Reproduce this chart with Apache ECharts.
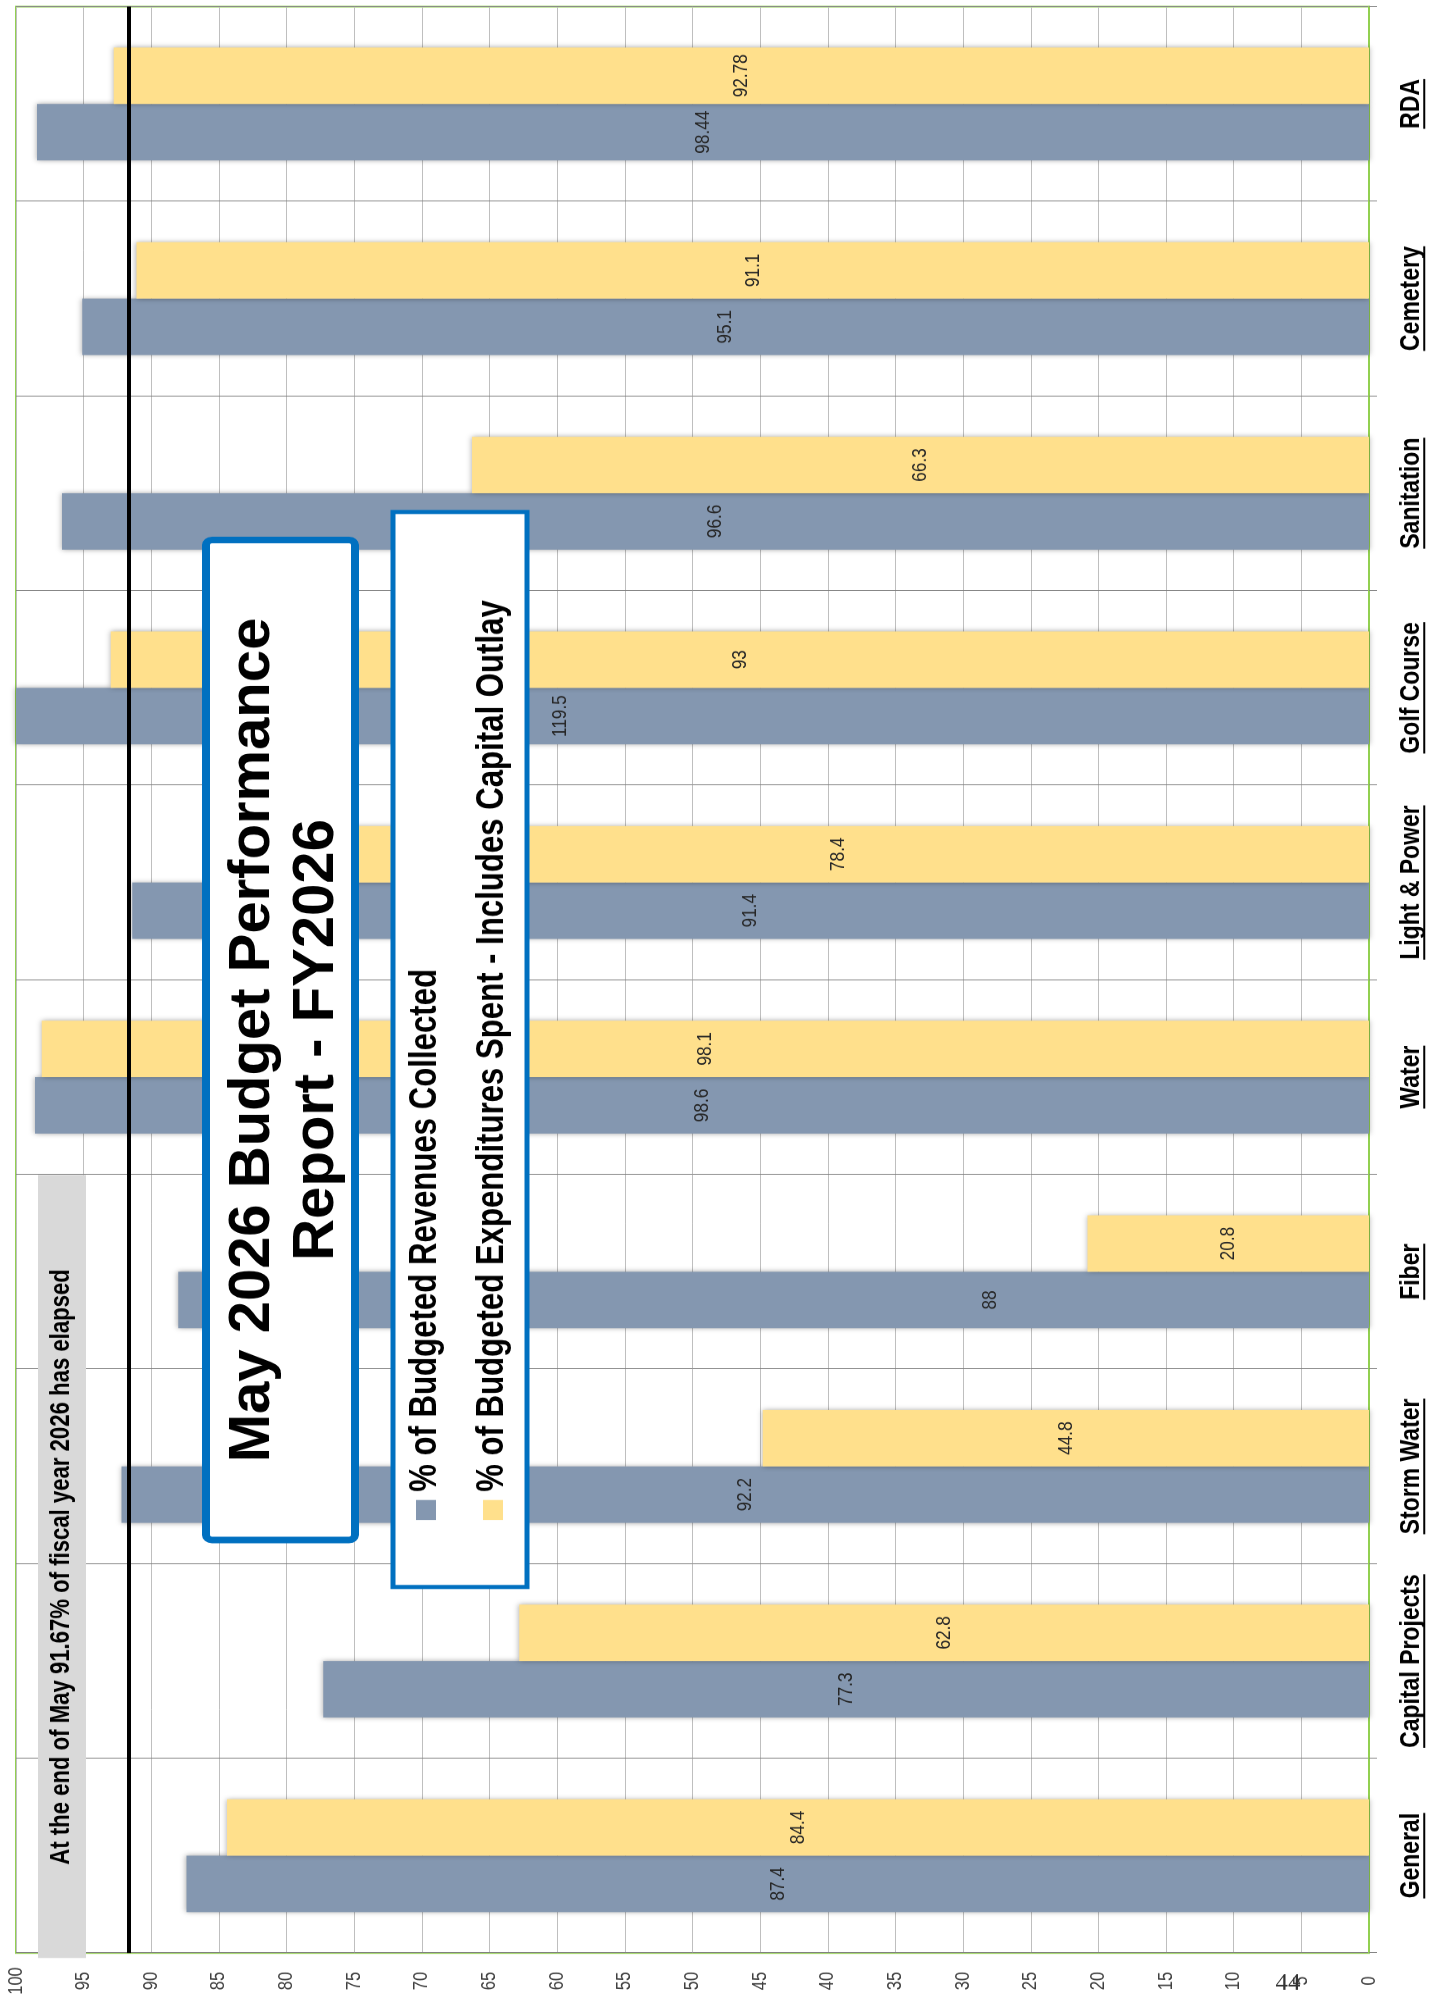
<!DOCTYPE html>
<html>
<head>
<meta charset="utf-8">
<script src="https://cdn.jsdelivr.net/npm/echarts@6/dist/echarts.min.js"></script>
<style>
  html, body { margin: 0; padding: 0; background: #fff; overflow: hidden; }
  #page { position: absolute; left: 0; top: 0; width: 1437px; height: 2007px; overflow: hidden; background: #fff; }
  #main { position: absolute; left: 0; top: 0; height: 1437px; transform-origin: 0 0; }
</style>
</head>
<body>
<div id="page"><div id="main"></div></div>
<script>
// ---------------- data ----------------
const categories = ['General', 'Capital Projects', 'Storm Water', 'Fiber', 'Water',
                    'Light & Power', 'Golf Course', 'Sanitation', 'Cemetery', 'RDA'];
const revenuesCollected = [87.4, 77.3, 92.2, 88, 98.6, 91.4, 119.5, 96.6, 95.1, 98.44];
const expendituresSpent = [84.4, 62.8, 44.8, 20.8, 98.1, 78.4, 93, 66.3, 91.1, 92.78];
const seriesNames = ['% of Budgeted Revenues Collected',
                     '% of Budgeted Expenditures Spent - Includes Capital Outlay'];
const valueAxisMin = 0, valueAxisMax = 100, valueAxisStep = 5;
const elapsedPct = 91.67;
const titleLines = ['May 2026 Budget Performance', 'Report - FY2026'];
const noteText = 'At the end of May 91.67% of fiscal year 2026 has elapsed';
const pageNumber = '44';

// ---------------- page geometry (chart is drawn sideways and narrowed) ----------------
const PAGE_W = 1437, PAGE_H = 2007;
const S = 0.82;                      // horizontal compression of the chart's own x direction
const U = px => px / S;              // page-pixels along the category direction -> chart px
const mainEl = document.getElementById('main');
mainEl.style.width = (PAGE_H / S) + 'px';
mainEl.style.transform = 'translate(0px,' + PAGE_H + 'px) rotate(-90deg) scaleX(' + S + ')';

const SANS = "'Liberation Sans', Arial, sans-serif";
const BLUE = '#8497B0', GOLD = '#FFE08C', FRAME = '#0070C0';
const catFont = 28, catMargin = 28;
// label placement override (value-axis position of the label centre)
const revLabelAt = { 3: 28 };

const chart = echarts.init(mainEl, null, { renderer: 'canvas' });

const barShadow = { shadowColor: 'rgba(0,0,0,0.35)', shadowBlur: 6, shadowOffsetX: 0, shadowOffsetY: 0 };
const barLabel = { show: true, position: 'inside', fontFamily: SANS, fontSize: 21, color: '#262626' };

const option = {
  animation: false,
  backgroundColor: '#ffffff',
  grid: { left: U(54), right: U(7), top: 16, bottom: 68, show: true, borderColor: '#92D050', borderWidth: 2, backgroundColor: 'transparent' },
  xAxis: {
    type: 'category', data: categories,
    axisLine: { show: true, lineStyle: { color: '#92D050', width: 2 } },
    axisTick: { show: true, length: 8, interval: 0, alignWithLabel: false, lineStyle: { color: '#808080' } },
    axisLabel: { interval: 0, margin: catMargin, fontFamily: SANS, fontWeight: 'bold', fontSize: catFont, color: '#000' },
    splitLine: { show: true, interval: 0, lineStyle: { color: '#7F7F7F', width: 1 } }
  },
  yAxis: {
    type: 'value', min: valueAxisMin, max: valueAxisMax, interval: valueAxisStep,
    axisLine: { show: false }, axisTick: { show: false },
    axisLabel: { margin: U(28), align: 'center', fontFamily: SANS, fontSize: 20, color: '#404040' },
    splitLine: { show: true, lineStyle: { color: '#BFBFBF', width: 1 } }
  },
  legend: {
    orient: 'vertical', left: U(487), top: 405, padding: 0, itemGap: 25,
    itemWidth: U(20), itemHeight: 20, icon: 'rect', z: 6,
    textStyle: { fontFamily: SANS, fontWeight: 'bold', fontSize: 38, lineHeight: 42, color: '#000', padding: [0, 0, 0, U(4)] },
    data: seriesNames
  },
  series: [
    { name: seriesNames[0], type: 'bar', data: revenuesCollected, barGap: '0%', barCategoryGap: '42%',
      itemStyle: Object.assign({ color: BLUE }, barShadow), label: barLabel, clip: true,
      markLine: { silent: true, symbol: ['none', 'none'], label: { show: false }, z: 5,
                  lineStyle: { color: '#000', width: 4, type: 'solid' }, data: [{ yAxis: elapsedPct }] } },
    { name: seriesNames[1], type: 'bar', data: expendituresSpent, barGap: '0%', barCategoryGap: '42%',
      itemStyle: Object.assign({ color: GOLD }, barShadow), label: barLabel, clip: true }
  ]
};
chart.setOption(option);

// --- label offsets (centre of the unclipped bar, or an override position) ---
const yPix = v => chart.convertToPixel({ yAxisIndex: 0 }, v);
const revData = revenuesCollected.map((v, i) => {
  const anchor = (i in revLabelAt) ? revLabelAt[i] : v / 2;
  const shown = Math.min(v, valueAxisMax) / 2;
  const off = yPix(anchor) - yPix(shown);
  return Math.abs(off) > 0.5 ? { value: v, label: { offset: [0, off] } } : v;
});

// --- underlines under the category labels ---
const ctx = document.createElement('canvas').getContext('2d');
ctx.font = 'bold ' + catFont + 'px ' + SANS;
const axisY = yPix(valueAxisMin);
const underY = axisY + catMargin + catFont * 0.97;
const underlines = categories.map(c => {
  const cx = chart.convertToPixel({ xAxisIndex: 0 }, c);
  const w = ctx.measureText(c).width;
  return { type: 'line', z: 10, silent: true,
           shape: { x1: cx - w / 2, y1: underY, x2: cx + w / 2, y2: underY },
           style: { stroke: '#000', lineWidth: 2 } };
});

const graphics = [
  // note band
  { type: 'rect', z: 3, shape: { x: U(49), y: 38, width: U(783), height: 48 }, style: { fill: '#D9D9D9' } },
  { type: 'text', z: 4, style: { text: noteText, x: U(440), y: 62, align: 'center', verticalAlign: 'middle',
      font: 'bold 27px ' + SANS, fill: '#000' } },
  // title box
  { type: 'rect', z: 20, shape: { x: U(467), y: 206, width: U(1000), height: 149, r: 6 },
    style: { fill: '#fff', stroke: FRAME, lineWidth: 8 } },
  { type: 'text', z: 21, x: U(967), y: 285, scaleX: 1 / S,
    style: { text: titleLines.join('\n'), x: 0, y: 0, align: 'center', verticalAlign: 'middle',
      font: 'bold 58px ' + SANS, lineHeight: 64, fill: '#000' } },
  // legend box
  { type: 'rect', z: 3, shape: { x: U(420), y: 393, width: U(1075), height: 134 },
    style: { fill: '#fff', stroke: FRAME, lineWidth: 5 } },
  // page number (upright on the page)
  { type: 'text', z: 30, x: U(24), y: 1288, rotation: -Math.PI / 2, scaleY: 1 / S,
    style: { text: pageNumber, x: 0, y: 0, align: 'center', verticalAlign: 'middle',
             font: '25px "Liberation Serif", serif', fill: '#333' } }
].concat(underlines);

chart.setOption({ series: [{ data: revData }], graphic: graphics });
</script>
</body>
</html>
